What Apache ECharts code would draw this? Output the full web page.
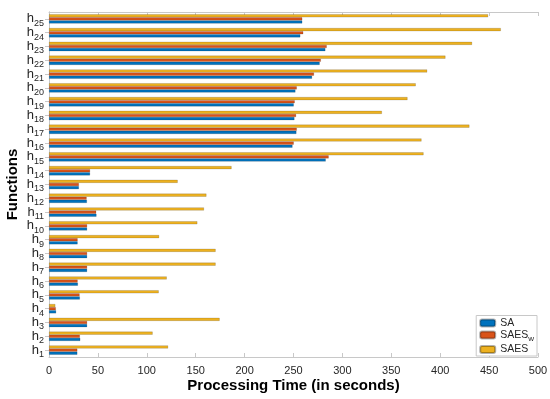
<!DOCTYPE html>
<html><head><meta charset="utf-8">
<script src="https://cdn.jsdelivr.net/npm/echarts@6/dist/echarts.min.js"></script>
<style>html,body{margin:0;padding:0;background:#fff}#c{width:550px;height:399px}</style>
</head><body><div id="c"></div>
<script>
const categories = ['1','2','3','4','5','6','7','8','9','10','11','12','13','14','15','16','17','18','19','20','21','22','23','24','25'];
const SA     = [29, 32, 39, 7.3, 31.6, 29.6, 39, 39, 29.3, 39, 48.6, 38.8, 30.6, 42, 283, 249, 253, 251, 250.3, 252, 269, 276.8, 282.6, 257, 259];
const SAES_w = [29, 31.6, 39, 7, 31.3, 29.3, 39, 39, 29.3, 39, 48.3, 38.5, 30.6, 42, 286, 250.3, 253.4, 252.7, 251.3, 253.4, 271, 278, 284, 260, 259];
const SAES   = [121.8, 106, 174.5, 6.5, 112.2, 120.4, 170.4, 170.4, 112.6, 151.7, 158.5, 161, 131.6, 186.7, 383, 380.9, 429.9, 340.4, 366.6, 375, 386.7, 405.4, 432.6, 462, 449];
const xTicks = [0, 500, 50];

const chart = echarts.init(document.getElementById('c'), null, {renderer:'canvas'});
const axisCol = '#262626';
const frame = '#c8c8c8';
const mkSeries = (name, data, color) => ({
  name, type:'bar', data, barGap:'0%', barCategoryGap:'32%',
  itemStyle:{color, borderColor:'rgba(0,0,0,0.3)', borderWidth:0.5}
});
chart.setOption({
  animation:false,
  textStyle:{fontFamily:'Liberation Sans, Arial, sans-serif'},
  grid:{left:49, right:12, top:12, bottom:42, show:false, containLabel:false, outerBoundsMode:'none'},
  legend:{
    right:13, bottom:43, orient:'vertical', itemWidth:15, itemHeight:7, itemGap:1,
    backgroundColor:'#fff', borderColor:frame, borderWidth:1, padding:[2,3,1,3],
    data:['SA','SAES_w','SAES'],
    formatter: n => n==='SAES_w' ? '{a|SAES}{s|w}' : '{a|'+n+'}',
    textStyle:{color:axisCol, fontSize:10.5, rich:{a:{fontSize:10.5,color:axisCol}, s:{fontSize:8,color:axisCol,padding:[8,0,0,0]}}}
  },
  xAxis:[{
    type:'value', min:xTicks[0], max:xTicks[1], interval:xTicks[2],
    axisLine:{show:true, lineStyle:{color:frame}},
    axisTick:{show:true, inside:true, length:4, lineStyle:{color:frame}},
    axisLabel:{color:axisCol, fontSize:11, margin:8},
    splitLine:{show:false},
    name:'Processing Time (in seconds)', nameLocation:'middle', nameGap:21, nameMoveOverlap:false,
    nameTextStyle:{fontSize:15, fontWeight:'bold', color:'#000'}
  },{
    type:'value', position:'top', min:xTicks[0], max:xTicks[1], interval:xTicks[2],
    axisLine:{show:true, lineStyle:{color:frame}},
    axisTick:{show:true, inside:true, length:4, lineStyle:{color:frame}},
    axisLabel:{show:false}, splitLine:{show:false}
  }],
  yAxis:[{
    type:'category', data:categories,
    axisLine:{show:true, lineStyle:{color:frame}},
    axisTick:{show:true, inside:true, alignWithLabel:true, interval:0, length:4, lineStyle:{color:frame}},
    axisLabel:{margin:5, interval:0, formatter: v => '{h|h}{s|'+v+'}',
      rich:{h:{fontSize:13,color:axisCol}, s:{fontSize:9,color:axisCol,padding:[9,0,0,0]}}},
    name:'Functions', nameLocation:'middle', nameGap:29, nameRotate:90, nameMoveOverlap:false,
    nameTextStyle:{fontSize:15, fontWeight:'bold', color:'#000'}
  },{
    type:'category', data:categories, position:'right',
    axisLine:{show:true, lineStyle:{color:frame}},
    axisTick:{show:true, inside:true, alignWithLabel:true, interval:0, length:4, lineStyle:{color:frame}},
    axisLabel:{show:false}
  }],
  series:[
    mkSeries('SAES', SAES, '#EDB120'),
    mkSeries('SAES_w', SAES_w, '#D95319'),
    mkSeries('SA', SA, '#0072BD')
  ]
});
</script></body></html>
